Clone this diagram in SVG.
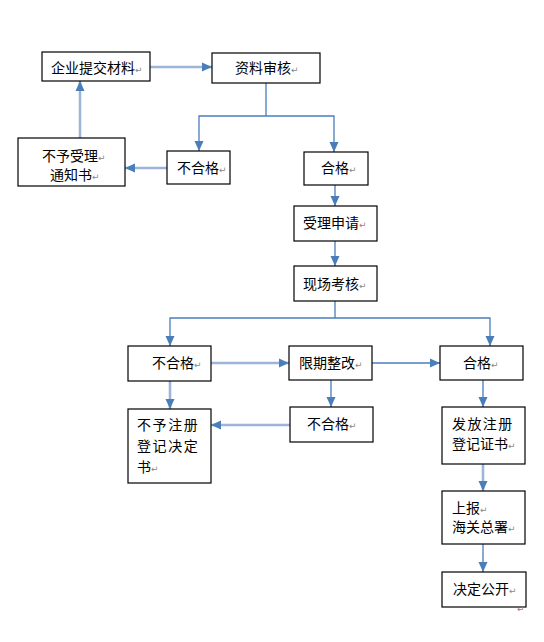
<svg xmlns="http://www.w3.org/2000/svg" width="544" height="642" viewBox="0 0 544 642">
<defs>
<marker id="ah" markerUnits="userSpaceOnUse" markerWidth="10" markerHeight="10" viewBox="0 0 10 10" refX="10" refY="5" orient="auto">
<path d="M0,0.5 L10,5 L0,9.5 Z" fill="#4a7ebb"/>
</marker>
<style>
.box{fill:#fff;stroke:#000;stroke-width:1.2}
.t{font-family:"Noto Sans CJK SC","Noto Sans",sans-serif;font-size:14px;fill:#000}
.p{font-family:"DejaVu Sans",sans-serif;font-size:9px;fill:#888}
.c{fill:none;stroke:#4a7ebb;stroke-width:1.3}
.l{fill:none;stroke:#9db5d8;stroke-width:2.6}
.a{marker-end:url(#ah)}
</style>
</defs>
<rect width="544" height="642" fill="#fff"/>
<g id="connectors">
<line class="l a" x1="150" y1="67" x2="212" y2="67"/>
<polyline class="c" points="266,83 266,116"/>
<polyline class="c a" points="266,116 199,116 199,151"/>
<polyline class="c a" points="266,116 334,116 334,152"/>
<line class="l a" x1="167" y1="168" x2="125" y2="168"/>
<line class="l a" x1="80" y1="138" x2="80" y2="81"/>
<line class="c a" x1="335" y1="185" x2="335" y2="206"/>
<line class="c a" x1="335" y1="241" x2="335" y2="266"/>
<polyline class="c" points="335,301 335,318"/>
<polyline class="c a" points="335,318 170,318 170,346"/>
<polyline class="c a" points="335,318 490,318 490,346"/>
<line class="l a" x1="211" y1="363" x2="289" y2="363"/>
<line class="c a" x1="372" y1="363" x2="440" y2="363"/>
<line class="l a" x1="170" y1="381" x2="170" y2="409"/>
<line class="c a" x1="331" y1="380" x2="331" y2="407"/>
<line class="l a" x1="290" y1="425" x2="211" y2="425"/>
<line class="c a" x1="483" y1="380" x2="483" y2="407"/>
<line class="l a" x1="483" y1="464" x2="483" y2="491"/>
<line class="c a" x1="483" y1="544" x2="483" y2="572"/>
</g>
<g id="n1"><rect class="box" x="42" y="52" width="108" height="29"/><text class="t" x="51" y="73">企业提交材料<tspan class="p">↵</tspan></text></g>
<g id="n2"><rect class="box" x="212" y="53" width="108" height="30"/><text class="t" x="235" y="73">资料审核<tspan class="p">↵</tspan></text></g>
<g id="n3"><rect class="box" x="167" y="151" width="63" height="33"/><text class="t" x="177" y="173">不合格<tspan class="p">↵</tspan></text></g>
<g id="n4"><rect class="box" x="304" y="152" width="64" height="33"/><text class="t" x="321" y="173">合格<tspan class="p">↵</tspan></text></g>
<g id="n5"><rect class="box" x="18" y="138" width="107" height="48"/><text class="t" x="42" y="161">不予受理<tspan class="p">↵</tspan></text><text class="t" x="50" y="180">通知书<tspan class="p">↵</tspan></text></g>
<g id="n6"><rect class="box" x="294" y="206" width="83" height="35"/><text class="t" x="303" y="228">受理申请<tspan class="p">↵</tspan></text></g>
<g id="n7"><rect class="box" x="294" y="266" width="83" height="35"/><text class="t" x="303" y="288.5">现场考核<tspan class="p">↵</tspan></text></g>
<g id="n8"><rect class="box" x="128" y="346" width="83" height="35"/><text class="t" x="152" y="368">不合格<tspan class="p">↵</tspan></text></g>
<g id="n9"><rect class="box" x="289" y="346" width="83" height="34"/><text class="t" x="299" y="368">限期整改<tspan class="p">↵</tspan></text></g>
<g id="n10"><rect class="box" x="440" y="346" width="83" height="34"/><text class="t" x="463" y="368">合格<tspan class="p">↵</tspan></text></g>
<g id="n11"><rect class="box" x="128" y="409" width="83" height="74"/><text class="t" x="137" y="430" letter-spacing="1.6">不予注册</text><text class="t" x="137" y="451" letter-spacing="1.6">登记决定</text><text class="t" x="137" y="472">书<tspan class="p">↵</tspan></text></g>
<g id="n12"><rect class="box" x="290" y="407" width="83" height="35"/><text class="t" x="307" y="428.5">不合格<tspan class="p">↵</tspan></text></g>
<g id="n13"><rect class="box" x="442" y="407" width="83" height="57"/><text class="t" x="452" y="428.5" letter-spacing="1.4">发放注册</text><text class="t" x="452" y="448.5">登记证书<tspan class="p">↵</tspan></text></g>
<g id="n14"><rect class="box" x="442" y="491" width="83" height="53"/><text class="t" x="452" y="512.5">上报<tspan class="p">↵</tspan></text><text class="t" x="452" y="532">海关总署<tspan class="p">↵</tspan></text></g>
<g id="n15"><rect class="box" x="442" y="572" width="84" height="35"/><text class="t" x="453" y="594">决定公开<tspan class="p">↵</tspan></text></g>
<text class="p" x="517" y="612">↵</text>
</svg>
